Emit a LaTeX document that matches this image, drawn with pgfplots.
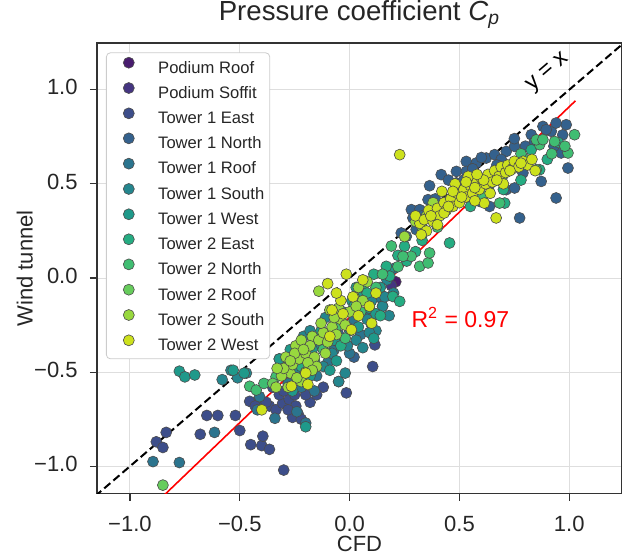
\documentclass[border=0pt]{standalone}
\usepackage{pgfplots}
\pgfplotsset{compat=1.18}
\usepackage{fontspec}
\setmainfont{Liberation Sans}

% viridis, 12 classes
\definecolor{c1}{HTML}{481C6E}
\definecolor{c2}{HTML}{453581}
\definecolor{c3}{HTML}{3D4E8A}
\definecolor{c4}{HTML}{34618D}
\definecolor{c5}{HTML}{2B748E}
\definecolor{c6}{HTML}{24868E}
\definecolor{c7}{HTML}{1F998A}
\definecolor{c8}{HTML}{25AC82}
\definecolor{c9}{HTML}{40BD72}
\definecolor{c10}{HTML}{67CC5C}
\definecolor{c11}{HTML}{98D83E}
\definecolor{c12}{HTML}{CDE11D}

\pgfplotsset{pt/.style={only marks, mark=*, mark size=2.75pt,
  mark options={fill=#1, draw=black!70, line width=0.3pt}}}

\begin{document}
\begin{tikzpicture}
\begin{axis}[
  name=ax,
  width=262.5pt, height=225.3pt, scale only axis,
  xmin=-1.15, xmax=1.24, ymin=-1.145, ymax=1.248,
  xtick={-1,-0.5,0,0.5,1}, xticklabels={−1.0,−0.5,0.0,0.5,1.0},
  ytick={-1,-0.5,0,0.5,1}, yticklabels={−1.0,−0.5,0.0,0.5,1.0},
  tick pos=left, tick align=outside, major tick length=3.5pt,
  grid=major, major grid style={black!13, line width=0.5pt},
  axis line style={black!80, line width=0.6pt},
  tick style={black!80, line width=0.6pt},
  ticklabel style={font=\fontsize{11}{13}\selectfont, text=black!85},
  xticklabel style={anchor=base, yshift=-15.5pt},
  yticklabel style={anchor=mid east, inner sep=0pt, xshift=-6pt},
  xlabel={CFD}, ylabel={Wind tunnel},
  label style={font=\fontsize{11}{13}\selectfont, text=black!85},
  xlabel style={at={(axis description cs:0.5,-0.128)}, anchor=base},
  ylabel style={at={(axis description cs:-0.1224,0.5)}, anchor=base},
  title={Pressure coefficient \textit{C}\textsubscript{\textit{p}}},
  title style={at={(axis description cs:0.5,1.0244)}, anchor=base,
    font=\fontsize{13.8}{16}\selectfont, text=black!85},
  legend cell align=left,
  legend style={at={(0,1)}, anchor=north west, xshift=4.5pt, yshift=-4.7pt,
    draw=black!20, rounded corners=2pt, fill=white,
    font=\fontsize{8.3}{10}\selectfont, text=black!85, inner sep=2.2pt,
    row sep=2.75pt, nodes={inner sep=0.5pt}},
  legend image code/.code={\draw[#1] plot coordinates {(0pt,2.9pt)};
    \path (-8.8pt,0pt) (14pt,0pt);},
]
\addplot[pt=c1] coordinates {(0.21,-0.02)};
\addlegendentry{Podium Roof}
\addplot[pt=c2] coordinates {(0.19,-0.04)};
\addlegendentry{Podium Soffit}
\addplot[pt=c3] coordinates {
  (-0.88,-0.87) (-0.85,-0.90) (-0.835,-0.82) (-0.68,-0.83) (-0.65,-0.73)
  (-0.60,-0.73) (-0.52,-0.73) (-0.50,-0.81) (-0.45,-0.885) (-0.40,-0.89)
  (-0.365,-0.91) (-0.395,-0.84) (-0.30,-1.02) (-0.455,-0.655) (-0.41,-0.645)
  (-0.365,-0.68) (-0.335,-0.70) (-0.305,-0.665) (-0.275,-0.645) (-0.245,-0.68)
  (-0.235,-0.72) (-0.32,-0.62) (-0.26,-0.74) (-0.22,-0.75) (-0.30,-0.60)
  (-0.18,-0.66) (-0.12,-0.58) (-0.015,-0.61) (0.105,-0.47) (0.115,-0.355)
  (-0.20,-0.62) (-0.35,-0.58) (-0.28,-0.70) (-0.25,-0.62) (-0.15,-0.62)
  (-0.38,-0.66) (-0.43,-0.68)};
\addlegendentry{Tower 1 East}
\addplot[pt=c4] coordinates {
  (0.364,0.49) (0.417,0.549) (0.486,0.566) (0.531,0.619) (0.577,0.611)
  (0.622,0.637) (0.66,0.655) (0.713,0.672) (0.751,0.699) (0.827,0.761)
  (0.88,0.805) (0.918,0.779) (0.486,0.505) (0.531,0.566) (0.713,0.469)
  (0.751,0.478) (0.637,0.495) (0.789,0.558) (0.592,0.407) (0.637,0.38)
  (0.281,0.363) (0.288,0.319) (0.235,0.239) (0.258,0.221) (0.774,0.319)
  (0.94,0.425) (0.994,0.584) (0.986,0.814) (0.94,0.823) (0.895,0.788)
  (0.963,0.664) (0.872,0.513) (0.303,0.257) (0.319,0.363) (0.357,0.416)
  (0.45,0.52) (0.56,0.58) (0.60,0.64) (0.69,0.63) (0.84,0.72)
  (0.93,0.70) (0.97,0.76) (0.39,0.42) (0.33,0.33) (-0.05,-0.30) (0.02,-0.42)
  (0.52,0.52) (0.67,0.60) (0.80,0.70) (0.75,0.74)};
\addlegendentry{Tower 1 North}
\addplot[pt=c5] coordinates {
  (-0.895,-0.975) (-0.775,-0.98) (-0.615,-0.82) (-0.34,-0.745) (-0.42,-0.70)
  (-0.41,-0.63) (-0.24,-0.71) (-0.20,-0.77) (-0.28,-0.56) (-0.15,-0.52)
  (-0.10,-0.45) (-0.05,-0.55) (0.0,-0.40) (0.05,-0.30) (0.10,-0.25)
  (0.15,-0.15) (-0.16,-0.60) (0.02,-0.22) (0.20,0.05) (0.13,-0.10)
  (-0.07,-0.38) (0.07,-0.19) (-0.22,-0.58)};
\addlegendentry{Tower 1 Roof}
\addplot[pt=c6] coordinates {
  (-0.54,-0.49) (-0.51,-0.53) (-0.58,-0.54) (-0.47,-0.505) (-0.30,-0.45)
  (-0.21,-0.31) (-0.11,-0.21) (-0.05,-0.24) (0.08,-0.22) (0.03,-0.33)
  (0.06,-0.37) (-0.02,-0.505) (-0.05,-0.55) (0.15,-0.15) (0.18,-0.20)
  (-0.20,-0.41) (-0.15,-0.35) (-0.08,-0.40) (0.00,-0.28) (0.12,-0.28)
  (-0.25,-0.50) (-0.32,-0.43) (0.17,-0.01) (0.20,-0.08) (-0.12,-0.47) (0.10,-0.12)
  (-0.01,-0.36) (0.09,-0.29) (-0.18,-0.28) (0.16,-0.10)};
\addlegendentry{Tower 1 South}
\addplot[pt=c7] coordinates {
  (-0.775,-0.495) (-0.75,-0.525) (-0.705,-0.515) (-0.53,-0.49) (-0.48,-0.505)
  (-0.32,-0.43) (-0.20,-0.79) (-0.24,-0.44) (-0.17,-0.38) (-0.13,-0.28)
  (-0.07,-0.33) (-0.03,-0.18) (0.04,-0.26) (0.09,-0.16) (0.14,-0.05)
  (-0.09,-0.49) (-0.18,-0.52) (0.01,-0.12) (0.11,-0.32) (0.18,0.04)
  (-0.27,-0.38) (0.05,-0.08) (-0.06,-0.44) (0.03,-0.05) (0.12,-0.19) (-0.26,-0.60)};
\addlegendentry{Tower 1 West}
\addplot[pt=c8] coordinates {
  (0.167,0.062) (0.182,0.01) (0.25,0.168) (0.197,-0.098) (0.228,-0.124)
  (0.455,0.186) (0.607,0.433) (0.706,0.398) (0.827,0.681) (0.865,0.575)
  (-0.16,-0.44) (-0.10,-0.30) (-0.04,-0.36) (0.02,-0.15) (0.06,-0.05)
  (0.11,0.02) (0.26,0.09) (0.30,0.14) (0.62,0.50) (0.74,0.58)
  (0.90,0.63) (0.95,0.72) (0.14,-0.20) (-0.22,-0.47) (0.33,0.20) (0.22,0.12)
  (0.70,0.47) (0.78,0.52) (0.55,0.38) (0.08,-0.08)};
\addlegendentry{Tower 2 East}
\addplot[pt=c9] coordinates {
  (-0.455,-0.575) (-0.425,-0.595) (-0.335,-0.525) (-0.39,-0.56) (0.28,0.115)
  (0.319,0.062) (0.357,0.08) (0.364,0.133) (0.243,0.115) (0.683,0.398)
  (0.865,0.708) (0.85,0.734) (0.804,0.628) (0.994,0.664) (1.024,0.761)
  (0.933,0.725) (0.85,0.575) (0.88,0.735) (-0.28,-0.47) (-0.12,-0.38)
  (0.05,-0.18) (0.19,0.17) (0.40,0.27) (0.70,0.55) (0.78,0.66)
  (0.98,0.70) (0.12,-0.05) (-0.06,-0.26) (0.22,0.06)
  (0.60,0.44) (0.92,0.66) (0.15,0.02) (-0.02,-0.32)};
\addlegendentry{Tower 2 North}
\addplot[pt=c10] coordinates {
  (-0.85,-1.10) (-0.35,-0.56) (0.02,-0.10) (0.33,0.27) (0.58,0.47)};
\addlegendentry{Tower 2 Roof}
\addplot[pt=c11] coordinates {
  (-0.335,-0.58) (-0.29,-0.42) (-0.245,-0.36) (-0.17,-0.31) (-0.27,-0.505)
  (-0.22,-0.55) (-0.31,-0.52) (-0.26,-0.46) (-0.23,-0.43) (-0.20,-0.40)
  (-0.18,-0.36) (-0.16,-0.42) (-0.14,-0.33) (-0.12,-0.29) (-0.10,-0.34)
  (-0.08,-0.26) (-0.06,-0.30) (-0.04,-0.22) (-0.02,-0.25) (0.00,-0.18)
  (0.02,-0.10) (0.04,-0.05) (-0.09,-0.17) (-0.14,-0.07) (-0.20,-0.50)
  (-0.24,-0.53) (-0.28,-0.58) (-0.30,-0.48) (-0.15,-0.47) (-0.11,-0.40)
  (-0.19,-0.45) (-0.25,-0.40) (-0.07,-0.21) (0.06,-0.12) (0.08,-0.02)
  (-0.13,-0.24) (-0.22,-0.33) (-0.33,-0.48) (0.30,0.30) (0.35,0.33)
  (0.40,0.36) (0.45,0.41) (0.50,0.44) (-0.21,-0.38) (-0.17,-0.49)
  (-0.27,-0.44) (-0.05,-0.16) (0.03,-0.15) (0.25,0.22) (0.38,0.40) (0.55,0.46)};
\addlegendentry{Tower 2 South}
\addplot[pt=c12] coordinates {
  (-0.015,0.02) (0.06,-0.01) (-0.08,-0.17) (-0.03,-0.19) (0.015,-0.10)
  (0.09,-0.15) (0.10,-0.24) (0.008,-0.275) (-0.09,-0.31) (-0.20,-0.505)
  (-0.19,-0.565) (-0.265,-0.575) (-0.40,-0.70) (-0.10,-0.03) (0.12,-0.08)
  (-0.04,-0.12) (0.228,0.655) (-0.06,-0.08) (0.04,-0.20)
  (0.32,0.29) (0.30,0.33) (0.34,0.31) (0.36,0.36) (0.38,0.30)
  (0.40,0.37) (0.41,0.33) (0.43,0.40) (0.44,0.36) (0.46,0.42)
  (0.47,0.38) (0.49,0.45) (0.50,0.40) (0.52,0.47) (0.53,0.43)
  (0.55,0.49) (0.56,0.45) (0.58,0.51) (0.59,0.47) (0.60,0.53)
  (0.62,0.50) (0.63,0.55) (0.65,0.51) (0.66,0.57) (0.68,0.54)
  (0.69,0.59) (0.71,0.56) (0.72,0.60) (0.74,0.58) (0.75,0.62)
  (0.77,0.59) (0.79,0.62) (0.81,0.60) (0.83,0.63) (0.613,0.398)
  (0.667,0.319) (0.845,0.57) (0.42,0.46) (0.48,0.50) (0.54,0.54)
  (0.57,0.41) (0.64,0.45) (0.70,0.50) (0.35,0.25) (0.326,0.23)
  (0.40,0.283) (0.43,0.345) (0.37,0.33) (0.45,0.38) (0.51,0.43)
  (0.57,0.48) (0.61,0.52) (0.67,0.52) (0.73,0.57) (0.78,0.61)
  (0.47,0.46) (0.53,0.51) (0.58,0.55)};
\addlegendentry{Tower 2 West}
% identity and regression lines
\addplot[forget plot, black, line width=1pt, dash pattern=on 4pt off 2pt]
  coordinates {(-1.2,-1.2) (1.3,1.3)};
\addplot[forget plot, red, line width=0.8pt]
  coordinates {(-0.87,-1.182) (1.028,0.941)};
\node[rotate=40.6, font=\fontsize{11.5}{13}\selectfont] at (axis cs:0.905,1.09) {y = x};
\node[anchor=west, text=red, font=\fontsize{11.5}{13}\selectfont]
  at (axis cs:0.25,-0.21) {R\textsuperscript{2} = 0.97};
\end{axis}
\pgfresetboundingbox
\path ([xshift=-48.5pt,yshift=-30pt]ax.south west) rectangle ([yshift=21.5pt]ax.north east);
\end{tikzpicture}
\end{document}
